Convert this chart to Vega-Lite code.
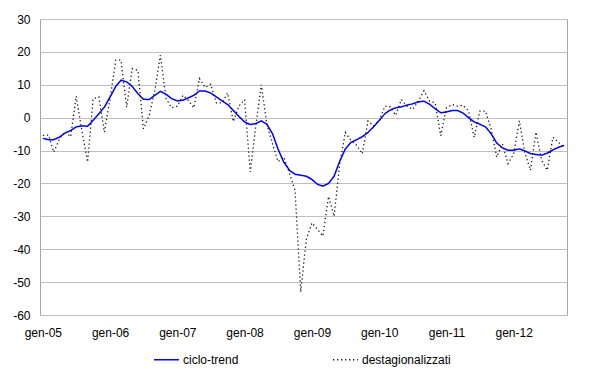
{
  "$schema": "https://vega.github.io/schema/vega-lite/v6.json",
  "width": 527,
  "height": 296,
  "autosize": {"type": "none"},
  "padding": {"left": 40, "top": 19, "right": 33, "bottom": 58},
  "background": "white",
  "config": {
    "font": "Liberation Sans",
    "view": {"stroke": "#a6a6a6", "strokeWidth": 1},
    "axis": {"labelFont": "Liberation Sans", "labelFontSize": 12, "labelColor": "#000000"},
    "legend": {
      "orient": "none",
      "legendX": 113,
      "legendY": 327,
      "direction": "horizontal",
      "symbolType": "stroke",
      "symbolSize": 625,
      "symbolStrokeWidth": 1.5,
      "labelFont": "Liberation Sans",
      "labelFontSize": 12,
      "labelColor": "#000000",
      "columnPadding": 91,
      "labelOffset": 3
    }
  },
  "data": {
    "values": [
      {"date": "2005-01-01", "ciclo-trend": -6.3, "destagionalizzati": -5.4},
      {"date": "2005-02-01", "ciclo-trend": -6.7, "destagionalizzati": -5.3},
      {"date": "2005-03-01", "ciclo-trend": -6.7, "destagionalizzati": -10.5},
      {"date": "2005-04-01", "ciclo-trend": -5.9, "destagionalizzati": -6.5},
      {"date": "2005-05-01", "ciclo-trend": -4.7, "destagionalizzati": -4.2},
      {"date": "2005-06-01", "ciclo-trend": -3.9, "destagionalizzati": -5.8},
      {"date": "2005-07-01", "ciclo-trend": -2.8, "destagionalizzati": 6.5},
      {"date": "2005-08-01", "ciclo-trend": -2.5, "destagionalizzati": -4},
      {"date": "2005-09-01", "ciclo-trend": -2.6, "destagionalizzati": -13.5},
      {"date": "2005-10-01", "ciclo-trend": -0.8, "destagionalizzati": 5.8},
      {"date": "2005-11-01", "ciclo-trend": 1.2, "destagionalizzati": 6.3},
      {"date": "2005-12-01", "ciclo-trend": 3.2, "destagionalizzati": -4.4},
      {"date": "2006-01-01", "ciclo-trend": 6.3, "destagionalizzati": 5.8},
      {"date": "2006-02-01", "ciclo-trend": 9.5, "destagionalizzati": 17.5},
      {"date": "2006-03-01", "ciclo-trend": 11.4, "destagionalizzati": 17.5},
      {"date": "2006-04-01", "ciclo-trend": 10.9, "destagionalizzati": 3.2},
      {"date": "2006-05-01", "ciclo-trend": 9.5, "destagionalizzati": 14.9},
      {"date": "2006-06-01", "ciclo-trend": 7.3, "destagionalizzati": 14.4},
      {"date": "2006-07-01", "ciclo-trend": 5.6, "destagionalizzati": -3.4},
      {"date": "2006-08-01", "ciclo-trend": 5.5, "destagionalizzati": 0.7},
      {"date": "2006-09-01", "ciclo-trend": 6.8, "destagionalizzati": 8.3},
      {"date": "2006-10-01", "ciclo-trend": 8.0, "destagionalizzati": 19.0},
      {"date": "2006-11-01", "ciclo-trend": 7.1, "destagionalizzati": 5.8},
      {"date": "2006-12-01", "ciclo-trend": 5.8, "destagionalizzati": 3.0},
      {"date": "2007-01-01", "ciclo-trend": 5.1, "destagionalizzati": 3.5},
      {"date": "2007-02-01", "ciclo-trend": 5.3, "destagionalizzati": 6.8},
      {"date": "2007-03-01", "ciclo-trend": 6.0, "destagionalizzati": 5.3},
      {"date": "2007-04-01", "ciclo-trend": 6.8, "destagionalizzati": 3.0},
      {"date": "2007-05-01", "ciclo-trend": 8.1, "destagionalizzati": 11.9},
      {"date": "2007-06-01", "ciclo-trend": 8.1, "destagionalizzati": 9.2},
      {"date": "2007-07-01", "ciclo-trend": 7.5, "destagionalizzati": 10.2},
      {"date": "2007-08-01", "ciclo-trend": 6.3, "destagionalizzati": 4.5},
      {"date": "2007-09-01", "ciclo-trend": 5.1, "destagionalizzati": 4.5},
      {"date": "2007-10-01", "ciclo-trend": 4.0, "destagionalizzati": 7.5},
      {"date": "2007-11-01", "ciclo-trend": 2.2, "destagionalizzati": -1.2},
      {"date": "2007-12-01", "ciclo-trend": 0.4, "destagionalizzati": 3.5},
      {"date": "2008-01-01", "ciclo-trend": -1.3, "destagionalizzati": 5.5},
      {"date": "2008-02-01", "ciclo-trend": -2.1, "destagionalizzati": -16.5},
      {"date": "2008-03-01", "ciclo-trend": -1.8, "destagionalizzati": -3},
      {"date": "2008-04-01", "ciclo-trend": -1.0, "destagionalizzati": 10},
      {"date": "2008-05-01", "ciclo-trend": -2.0, "destagionalizzati": -2},
      {"date": "2008-06-01", "ciclo-trend": -4.9, "destagionalizzati": -8},
      {"date": "2008-07-01", "ciclo-trend": -9.6, "destagionalizzati": -13.4},
      {"date": "2008-08-01", "ciclo-trend": -13.5, "destagionalizzati": -12},
      {"date": "2008-09-01", "ciclo-trend": -16.0, "destagionalizzati": -17},
      {"date": "2008-10-01", "ciclo-trend": -17.2, "destagionalizzati": -22},
      {"date": "2008-11-01", "ciclo-trend": -17.5, "destagionalizzati": -53},
      {"date": "2008-12-01", "ciclo-trend": -17.8, "destagionalizzati": -37},
      {"date": "2009-01-01", "ciclo-trend": -18.8, "destagionalizzati": -32},
      {"date": "2009-02-01", "ciclo-trend": -20.3, "destagionalizzati": -34},
      {"date": "2009-03-01", "ciclo-trend": -20.8, "destagionalizzati": -36},
      {"date": "2009-04-01", "ciclo-trend": -20.0, "destagionalizzati": -24},
      {"date": "2009-05-01", "ciclo-trend": -17.8, "destagionalizzati": -30},
      {"date": "2009-06-01", "ciclo-trend": -13.2, "destagionalizzati": -14},
      {"date": "2009-07-01", "ciclo-trend": -9.5, "destagionalizzati": -4.5},
      {"date": "2009-08-01", "ciclo-trend": -7.5, "destagionalizzati": -6.9},
      {"date": "2009-09-01", "ciclo-trend": -6.7, "destagionalizzati": -8.4},
      {"date": "2009-10-01", "ciclo-trend": -5.8, "destagionalizzati": -11},
      {"date": "2009-11-01", "ciclo-trend": -4.5, "destagionalizzati": -1},
      {"date": "2009-12-01", "ciclo-trend": -2.8, "destagionalizzati": -2.5},
      {"date": "2010-01-01", "ciclo-trend": -0.8, "destagionalizzati": -1},
      {"date": "2010-02-01", "ciclo-trend": 1.2, "destagionalizzati": 3.5},
      {"date": "2010-03-01", "ciclo-trend": 2.3, "destagionalizzati": 3.3},
      {"date": "2010-04-01", "ciclo-trend": 3.0, "destagionalizzati": 0.7},
      {"date": "2010-05-01", "ciclo-trend": 3.3, "destagionalizzati": 5.5},
      {"date": "2010-06-01", "ciclo-trend": 3.8, "destagionalizzati": 3.5},
      {"date": "2010-07-01", "ciclo-trend": 4.2, "destagionalizzati": 2.5},
      {"date": "2010-08-01", "ciclo-trend": 4.8, "destagionalizzati": 5},
      {"date": "2010-09-01", "ciclo-trend": 5.0, "destagionalizzati": 8.2},
      {"date": "2010-10-01", "ciclo-trend": 4.1, "destagionalizzati": 5},
      {"date": "2010-11-01", "ciclo-trend": 2.7, "destagionalizzati": 4.5},
      {"date": "2010-12-01", "ciclo-trend": 1.5, "destagionalizzati": -5.5},
      {"date": "2011-01-01", "ciclo-trend": 1.7, "destagionalizzati": 3},
      {"date": "2011-02-01", "ciclo-trend": 2.2, "destagionalizzati": 4},
      {"date": "2011-03-01", "ciclo-trend": 2.2, "destagionalizzati": 3.5},
      {"date": "2011-04-01", "ciclo-trend": 1.4, "destagionalizzati": 3.8},
      {"date": "2011-05-01", "ciclo-trend": 0.0, "destagionalizzati": 2},
      {"date": "2011-06-01", "ciclo-trend": -1.3, "destagionalizzati": -6},
      {"date": "2011-07-01", "ciclo-trend": -2.0, "destagionalizzati": 2},
      {"date": "2011-08-01", "ciclo-trend": -2.8, "destagionalizzati": 2},
      {"date": "2011-09-01", "ciclo-trend": -4.9, "destagionalizzati": -3.5},
      {"date": "2011-10-01", "ciclo-trend": -7.7, "destagionalizzati": -12},
      {"date": "2011-11-01", "ciclo-trend": -9.2, "destagionalizzati": -8},
      {"date": "2011-12-01", "ciclo-trend": -9.9, "destagionalizzati": -14},
      {"date": "2012-01-01", "ciclo-trend": -9.9, "destagionalizzati": -11},
      {"date": "2012-02-01", "ciclo-trend": -9.5, "destagionalizzati": -1},
      {"date": "2012-03-01", "ciclo-trend": -10.1, "destagionalizzati": -10.5},
      {"date": "2012-04-01", "ciclo-trend": -10.9, "destagionalizzati": -16},
      {"date": "2012-05-01", "ciclo-trend": -11.2, "destagionalizzati": -4.4},
      {"date": "2012-06-01", "ciclo-trend": -11.4, "destagionalizzati": -13},
      {"date": "2012-07-01", "ciclo-trend": -10.8, "destagionalizzati": -16},
      {"date": "2012-08-01", "ciclo-trend": -9.8, "destagionalizzati": -6},
      {"date": "2012-09-01", "ciclo-trend": -9.0, "destagionalizzati": -7.5},
      {"date": "2012-10-01", "ciclo-trend": -8.4, "destagionalizzati": -9.5}
    ]
  },
  "transform": [{"fold": ["ciclo-trend", "destagionalizzati"], "as": ["series", "value"]}],
  "mark": {"type": "line"},
  "encoding": {
    "x": {
      "field": "date",
      "type": "temporal",
      "scale": {
        "type": "utc",
        "domain": [
          {"year": 2004, "month": 12, "date": 16, "hours": 12, "utc": true},
          {"year": 2012, "month": 10, "date": 16, "hours": 12, "utc": true}
        ]
      },
      "axis": {
        "title": null,
        "grid": false,
        "ticks": false,
        "domain": false,
        "labelPadding": 12,
        "values": [
          {"year": 2005, "month": 1, "date": 1, "utc": true},
          {"year": 2006, "month": 1, "date": 1, "utc": true},
          {"year": 2007, "month": 1, "date": 1, "utc": true},
          {"year": 2008, "month": 1, "date": 1, "utc": true},
          {"year": 2009, "month": 1, "date": 1, "utc": true},
          {"year": 2010, "month": 1, "date": 1, "utc": true},
          {"year": 2011, "month": 1, "date": 1, "utc": true},
          {"year": 2012, "month": 1, "date": 1, "utc": true}
        ],
        "labelExpr": "'gen-' + utcFormat(datum.value, '%y')"
      }
    },
    "y": {
      "field": "value",
      "type": "quantitative",
      "scale": {"domain": [-60, 30], "nice": false, "zero": false},
      "axis": {
        "title": null,
        "values": [-60, -50, -40, -30, -20, -10, 0, 10, 20, 30],
        "ticks": false,
        "domain": false,
        "gridColor": "#bfbfbf",
        "gridWidth": 1,
        "labelPadding": 10,
        "labelExpr": "'' + datum.value"
      }
    },
    "color": {
      "field": "series",
      "type": "nominal",
      "scale": {"domain": ["ciclo-trend", "destagionalizzati"], "range": ["#0000ff", "#1a1a1a"]},
      "legend": {"title": null}
    },
    "strokeDash": {
      "field": "series",
      "type": "nominal",
      "scale": {"domain": ["ciclo-trend", "destagionalizzati"], "range": [[1, 0], [1.3, 2.7]]},
      "legend": {"title": null}
    },
    "strokeWidth": {
      "field": "series",
      "type": "nominal",
      "scale": {"domain": ["ciclo-trend", "destagionalizzati"], "range": [1.5, 1.3]},
      "legend": null
    }
  }
}
